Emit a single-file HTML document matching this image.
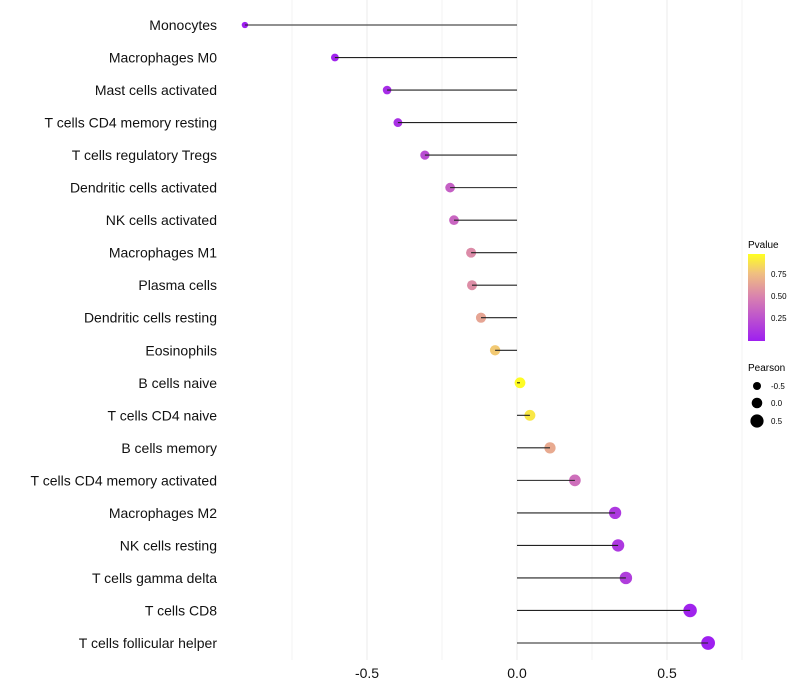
<!DOCTYPE html>
<html><head><meta charset="utf-8"><style>
body{margin:0;background:#fff;}
svg{display:block;font-family:"Liberation Sans",sans-serif;}
</style></head><body>
<svg id="chart" width="800" height="700" xmlns="http://www.w3.org/2000/svg">
<defs><linearGradient id="pg" x1="0" y1="1" x2="0" y2="0">
<stop offset="0" stop-color="#9e1ff0"/><stop offset="0.5" stop-color="#d880b0"/><stop offset="0.78" stop-color="#f0c080"/><stop offset="1" stop-color="#ffff20"/>
</linearGradient></defs>
<g id="grid"></g><g id="marks"></g><g id="labels"></g>
<g>
<text x="748" y="248" font-size="10" fill="#000">Pvalue</text>
<rect x="748" y="254" width="17" height="87" fill="url(#pg)"/>
<text x="771" y="277" font-size="8">0.75</text>
<text x="771" y="299" font-size="8">0.50</text>
<text x="771" y="321" font-size="8">0.25</text>
</g>
<g>
<text x="748" y="371" font-size="10">Pearson</text>
<circle cx="757" cy="386" r="4"/><text x="771" y="389" font-size="8">-0.5</text>
<circle cx="757" cy="403" r="5.3"/><text x="771" y="406" font-size="8">0.0</text>
<circle cx="757" cy="421" r="6.6"/><text x="771" y="424" font-size="8">0.5</text>
</g>
</svg>
<script>
const categories=["Monocytes","Macrophages M0","Mast cells activated","T cells CD4 memory resting","T cells regulatory  Tregs","Dendritic cells activated","NK cells activated","Macrophages M1","Plasma cells","Dendritic cells resting","Eosinophils","B cells naive","T cells CD4 naive","B cells memory","T cells CD4 memory activated","Macrophages M2","NK cells resting","T cells gamma delta","T cells CD8","T cells follicular helper"];
const pearson=[-0.907,-0.607,-0.433,-0.397,-0.307,-0.223,-0.21,-0.153,-0.15,-0.12,-0.073,0.01,0.043,0.11,0.193,0.327,0.337,0.363,0.577,0.637];
const pvalues=[0.01,0.05,0.1,0.12,0.25,0.35,0.38,0.55,0.56,0.66,0.8,0.97,0.9,0.68,0.42,0.15,0.15,0.18,0.05,0.02];
const xTicks=[-0.5,0,0.5];
const xMinor=[-0.75,-0.25,0.25,0.75];
const NS="http://www.w3.org/2000/svg";
const xS=v=>517+v*300;
const yS=i=>25+i*(643-25)/(categories.length-1);
const rS=v=>3.2+(v+0.9)*2.4;
function lerp(a,b,t){return a.map((c,k)=>Math.round(c+(b[k]-c)*t));}
const stops=[[0,[158,31,240]],[0.5,[216,128,176]],[0.78,[240,192,128]],[1,[255,255,32]]];
function col(p){const t=Math.max(0,Math.min(1,(p-0.03)/0.95));for(let k=1;k<stops.length;k++){if(t<=stops[k][0]){const a=stops[k-1],b=stops[k];const c=lerp(a[1],b[1],(t-a[0])/(b[0]-a[0]));return `rgb(${c})`;}}return 'rgb(255,255,32)';}
function mk(tag,attrs,parent){const e=document.createElementNS(NS,tag);for(const k in attrs)e.setAttribute(k,attrs[k]);parent.appendChild(e);return e;}
const grid=document.getElementById('grid'),marks=document.getElementById('marks'),labels=document.getElementById('labels');
xMinor.forEach(v=>{const l=mk('line',{x1:xS(v),x2:xS(v),y1:0,y2:660,stroke:'#f3f3f3','stroke-width':1},grid);

});
xTicks.forEach(v=>{const l=mk('line',{x1:xS(v),x2:xS(v),y1:0,y2:660,stroke:'#ebebeb','stroke-width':1},grid);


const t=mk('text',{x:xS(v),y:678,'text-anchor':'middle','font-size':14,fill:'#111'},labels);t.textContent=v===0?'0.0':v.toString();

});
categories.forEach((c,i)=>{const y=yS(i);
const d=mk('circle',{cx:xS(pearson[i]),cy:y,r:rS(pearson[i]),fill:col(pvalues[i])},marks);


const l=mk('line',{x1:xS(0),x2:xS(pearson[i]),y1:y,y2:y,stroke:'#222','stroke-width':1.1},marks);


const t=mk('text',{x:217,y:y+5,'text-anchor':'end','font-size':14,fill:'#111'},labels);t.textContent=c;

});
</script>
</body></html>
